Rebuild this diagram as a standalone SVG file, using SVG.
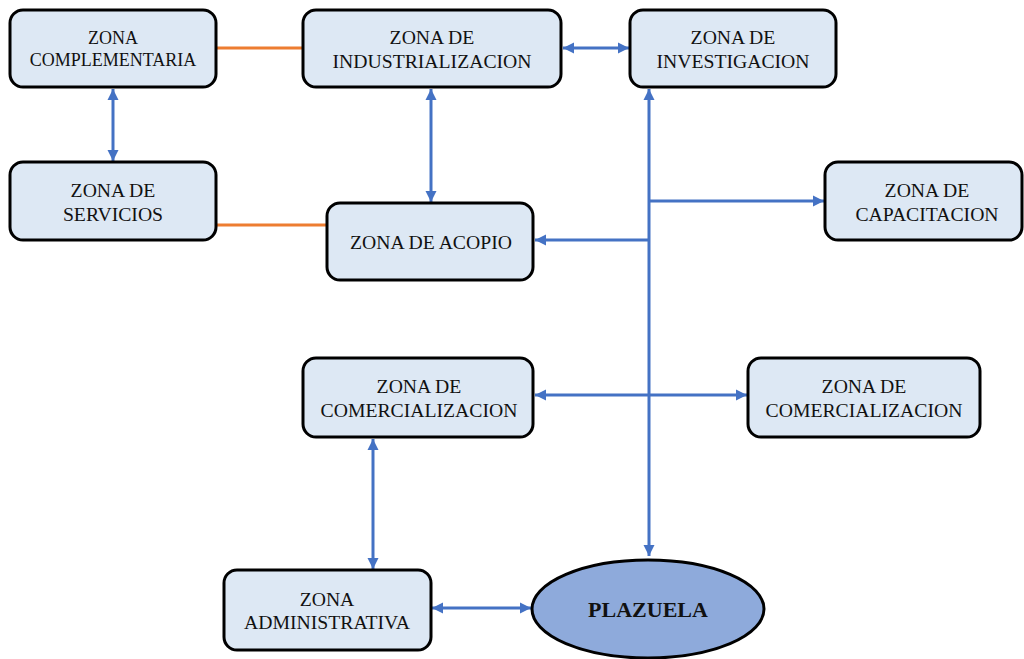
<svg xmlns="http://www.w3.org/2000/svg" width="1024" height="659" viewBox="0 0 1024 659">
  <style>
    .box { fill: #dde8f4; stroke: #000; stroke-width: 3; }
    .oval { fill: #8eaadb; stroke: #000; stroke-width: 3; }
    text { font-family: 'Liberation Serif', 'DejaVu Serif', serif; fill: #111; text-anchor: middle; }
    .lbl { font-size: 19.7px; }
    .sm { font-size: 18px; }
    .big { font-size: 22px; font-weight: bold; }
    .link { fill: none; stroke: #4472c4; stroke-width: 3; }
    .plain { fill: none; stroke: #ed7d31; stroke-width: 3; }
  </style>
  <defs>
    <marker id="tip" viewBox="0 0 10 10" refX="10" refY="5" markerWidth="11" markerHeight="12" markerUnits="userSpaceOnUse" orient="auto-start-reverse">
      <path d="M0,0 L10,5 L0,10 z" fill="#4472c4"/>
    </marker>
  </defs>

  <g id="connectors">
    <line class="plain" x1="216" y1="48" x2="303" y2="48"/>
    <line class="plain" x1="216" y1="225" x2="327" y2="225"/>
    <line class="link" x1="113" y1="89" x2="113" y2="161" marker-start="url(#tip)" marker-end="url(#tip)"/>
    <line class="link" x1="431" y1="89" x2="431" y2="202" marker-start="url(#tip)" marker-end="url(#tip)"/>
    <line class="link" x1="563" y1="48" x2="629" y2="48" marker-start="url(#tip)" marker-end="url(#tip)"/>
    <line class="link" x1="649" y1="556" x2="649" y2="89" marker-start="url(#tip)" marker-end="url(#tip)"/>
    <line class="link" x1="649" y1="201" x2="824" y2="201" marker-end="url(#tip)"/>
    <line class="link" x1="649" y1="240" x2="535" y2="240" marker-end="url(#tip)"/>
    <line class="link" x1="535" y1="395" x2="747" y2="395" marker-start="url(#tip)" marker-end="url(#tip)"/>
    <line class="link" x1="373" y1="439" x2="373" y2="569" marker-start="url(#tip)" marker-end="url(#tip)"/>
    <line class="link" x1="432" y1="608" x2="531" y2="608" marker-start="url(#tip)" marker-end="url(#tip)"/>
  </g>

  <g id="zona-complementaria">
    <rect class="box" x="10" y="10" width="206" height="77" rx="13"/>
    <text class="sm" x="113" y="44">ZONA</text>
    <text class="sm" x="113" y="66">COMPLEMENTARIA</text>
  </g>
  <g id="zona-industrializacion">
    <rect class="box" x="303" y="10" width="258" height="77" rx="13"/>
    <text class="lbl" x="432" y="44">ZONA DE</text>
    <text class="lbl" x="432" y="67.5">INDUSTRIALIZACION</text>
  </g>
  <g id="zona-investigacion">
    <rect class="box" x="630" y="10" width="206" height="77" rx="13"/>
    <text class="lbl" x="733" y="44">ZONA DE</text>
    <text class="lbl" x="733" y="67.5">INVESTIGACION</text>
  </g>
  <g id="zona-servicios">
    <rect class="box" x="10" y="162" width="206" height="78" rx="13"/>
    <text class="lbl" x="113" y="197">ZONA DE</text>
    <text class="lbl" x="113" y="221">SERVICIOS</text>
  </g>
  <g id="zona-acopio">
    <rect class="box" x="327" y="203" width="206" height="77" rx="13"/>
    <text class="lbl" x="431" y="249">ZONA DE ACOPIO</text>
  </g>
  <g id="zona-capacitacion">
    <rect class="box" x="825" y="162" width="197" height="78" rx="13"/>
    <text class="lbl" x="927" y="197">ZONA DE</text>
    <text class="lbl" x="927" y="221">CAPACITACION</text>
  </g>
  <g id="zona-comercializacion-1">
    <rect class="box" x="303" y="358" width="230" height="79" rx="13"/>
    <text class="lbl" x="419" y="393">ZONA DE</text>
    <text class="lbl" x="419" y="416.5">COMERCIALIZACION</text>
  </g>
  <g id="zona-comercializacion-2">
    <rect class="box" x="748" y="358" width="232" height="79" rx="13"/>
    <text class="lbl" x="864" y="393">ZONA DE</text>
    <text class="lbl" x="864" y="416.5">COMERCIALIZACION</text>
  </g>
  <g id="zona-administrativa">
    <rect class="box" x="224" y="570" width="207" height="80" rx="13"/>
    <text class="lbl" x="327" y="605.5">ZONA</text>
    <text class="lbl" x="327" y="629">ADMINISTRATIVA</text>
  </g>
  <g id="plazuela">
    <ellipse class="oval" cx="648" cy="609" rx="116" ry="49"/>
    <text class="big" x="648" y="617">PLAZUELA</text>
  </g>
</svg>
